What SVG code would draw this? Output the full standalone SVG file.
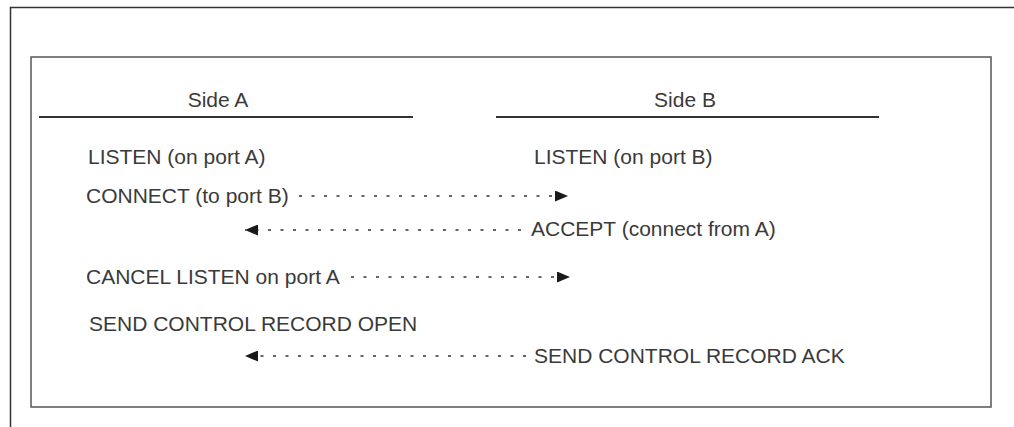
<svg xmlns="http://www.w3.org/2000/svg" width="1014" height="427" viewBox="0 0 1014 427">
<style>
.t{font-family:"Liberation Sans",Arial,sans-serif;font-size:21px;fill:#3a3a3a}
.h{text-anchor:middle}
.frame{fill:none;stroke:#333;stroke-width:1.5}
.box{fill:none;stroke:#555;stroke-width:1.5}
.rule{stroke:#333;stroke-width:2}
.dot{stroke:#333;stroke-width:1.5;stroke-dasharray:3 9.5;fill:none}
</style>
<defs>
<marker id="ah" viewBox="0 0 13 11" refX="13" refY="5.5" markerWidth="13" markerHeight="11" markerUnits="userSpaceOnUse" orient="auto">
<path d="M0,0 L13,5.5 L0,11 Z" fill="#1a1a1a"/>
</marker>
</defs>
<rect width="1014" height="427" fill="#fff"/>
<path class="frame" d="M10.5,427 V7.5 H1014"/>
<rect class="box" x="31" y="57" width="960" height="350"/>
<g id="sideA">
<text class="t h" x="218" y="107">Side A</text>
<line class="rule" x1="39" y1="117" x2="413" y2="117"/>
</g>
<g id="sideB">
<text class="t h" x="685" y="107">Side B</text>
<line class="rule" x1="496" y1="117" x2="879" y2="117"/>
</g>
<g id="listenA"><text class="t" x="88" y="164">LISTEN (on port A)</text></g>
<g id="listenB"><text class="t" x="534" y="164">LISTEN (on port B)</text></g>
<g id="connect"><text class="t" x="86" y="203">CONNECT (to port B)</text></g>
<g id="accept"><text class="t" x="531" y="236">ACCEPT (connect from A)</text></g>
<g id="cancel"><text class="t" x="86" y="284">CANCEL LISTEN on port A</text></g>
<g id="open"><text class="t" x="89" y="331">SEND CONTROL RECORD OPEN</text></g>
<g id="ack"><text class="t" x="534" y="363">SEND CONTROL RECORD ACK</text></g>
<g id="connectors">
<line class="dot" x1="299" y1="196" x2="568" y2="196" marker-end="url(#ah)"/>
<line class="dot" x1="521" y1="230" x2="245" y2="230" marker-end="url(#ah)"/>
<line class="dot" x1="351" y1="277" x2="570" y2="277" marker-end="url(#ah)"/>
<line class="dot" x1="526" y1="356" x2="245" y2="356" marker-end="url(#ah)"/>
</g>
</svg>
